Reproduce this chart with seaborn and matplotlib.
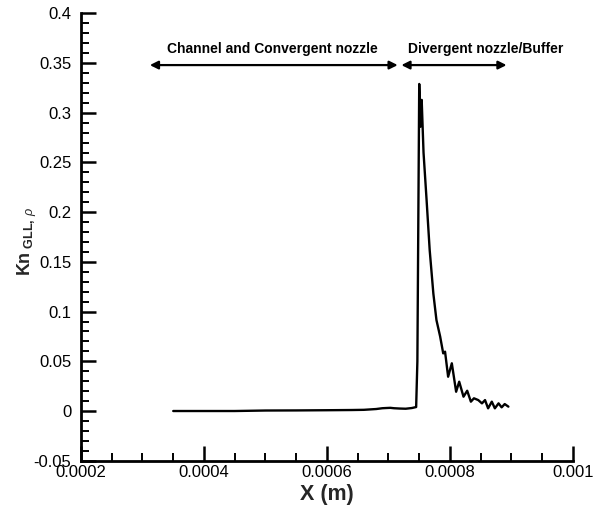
import matplotlib
matplotlib.use("Agg")
import matplotlib.pyplot as plt
import seaborn as sns
import pandas as pd
import numpy as np
from matplotlib.ticker import MultipleLocator

# ---- data ----
x_m = [0.00035, 0.0004, 0.00045, 0.0005, 0.00055, 0.0006, 0.00064, 0.00066,
       0.00068, 0.00069, 0.000696, 0.000703, 0.000709, 0.000718, 0.000728,
       0.000738, 0.000745, 0.000747, 0.00075, 0.000752, 0.000754, 0.000757,
       0.000762, 0.000767, 0.000773, 0.000778, 0.000784, 0.000789, 0.000792,
       0.000797, 0.000803, 0.00081, 0.000815, 0.000822, 0.000828, 0.000834,
       0.000839, 0.000846, 0.000852, 0.000857, 0.000862, 0.000868, 0.000873,
       0.000879, 0.000884, 0.000889, 0.000895]
kn = [0.0, 0.0, 0.0, 0.0005, 0.0006, 0.0008, 0.001, 0.0012,
      0.002, 0.0028, 0.003, 0.0032, 0.0028, 0.0025, 0.0023,
      0.003, 0.004, 0.05, 0.329, 0.286, 0.313, 0.26,
      0.212, 0.162, 0.118, 0.0915, 0.075, 0.058, 0.0597,
      0.0345, 0.048, 0.0194, 0.0295, 0.0144, 0.0204, 0.0094,
      0.0128, 0.011, 0.0077, 0.011, 0.0027, 0.0094, 0.0027,
      0.0077, 0.0037, 0.007, 0.0044]

region_labels = ["Channel and Convergent nozzle", "Divergent nozzle/Buffer"]
region_starts = [0.000312, 0.000721]
region_ends = [0.000715, 0.000892]
region_text_x = [0.000512, 0.000858]
arrow_y = 0.348
text_y = 0.364

x_ticks = [0.0002, 0.0004, 0.0006, 0.0008, 0.001]
x_ticklabels = ["0.0002", "0.0004", "0.0006", "0.0008", "0.001"]
y_ticks = [-0.05, 0, 0.05, 0.1, 0.15, 0.2, 0.25, 0.3, 0.35, 0.4]
y_ticklabels = ["-0.05", "0", "0.05", "0.1", "0.15", "0.2", "0.25", "0.3", "0.35", "0.4"]

df = pd.DataFrame({"x": x_m, "kn": kn})

sns.set_style("ticks")
plt.rcParams["font.family"] = ["Liberation Sans", "DejaVu Sans"]
plt.rcParams["mathtext.fontset"] = "custom"
plt.rcParams["mathtext.rm"] = "Liberation Sans:bold"
plt.rcParams["mathtext.bf"] = "Liberation Sans:bold"
plt.rcParams["mathtext.it"] = "Liberation Sans:italic"

fig = plt.figure(figsize=(6.03, 5.15), dpi=100)
ax = fig.add_axes([0.1343, 0.1054, 0.8159, 0.8686])

sns.lineplot(data=df, x="x", y="kn", ax=ax, color="black", linewidth=1.7,
             sort=False, estimator=None)

ax.set_xlim(0.0002, 0.001)
ax.set_ylim(-0.05, 0.4)
ax.set_xticks(x_ticks)
ax.set_xticklabels(x_ticklabels)
ax.set_yticks(y_ticks)
ax.set_yticklabels(y_ticklabels)
ax.xaxis.set_minor_locator(MultipleLocator(0.00005))
ax.yaxis.set_minor_locator(MultipleLocator(0.01))

for s in ["top", "right"]:
    ax.spines[s].set_visible(False)
for s in ["left", "bottom"]:
    ax.spines[s].set_linewidth(2.0)
    ax.spines[s].set_color("black")

ax.tick_params(axis="both", which="major", direction="in", length=11, width=1.8,
               labelsize=12, colors="black", pad=4)
ax.tick_params(axis="both", which="minor", direction="in", length=6, width=1.4,
               colors="black")
ax.tick_params(axis="y", which="major", pad=7)
ax.tick_params(axis="x", which="major", pad=3)

ax.set_xlabel("X (m)", fontsize=15.5, fontweight="bold", labelpad=3)
ax.set_ylabel(r"$\mathbf{Kn}_{\ \mathrm{GLL,}\,\rho}$", fontsize=13)
ax.yaxis.set_label_coords(-0.085, 0.49)

for lab, x0, x1, tx in zip(region_labels, region_starts, region_ends, region_text_x):
    ax.annotate("", xy=(x0, arrow_y), xytext=(x1, arrow_y),
                arrowprops=dict(arrowstyle="<|-|>", color="black", lw=1.6,
                                mutation_scale=12, shrinkA=0, shrinkB=0))
    ax.text(tx, text_y, lab, ha="center", va="center", fontsize=10,
            fontweight="bold", color="black")

fig.savefig("out.png", dpi=100)
